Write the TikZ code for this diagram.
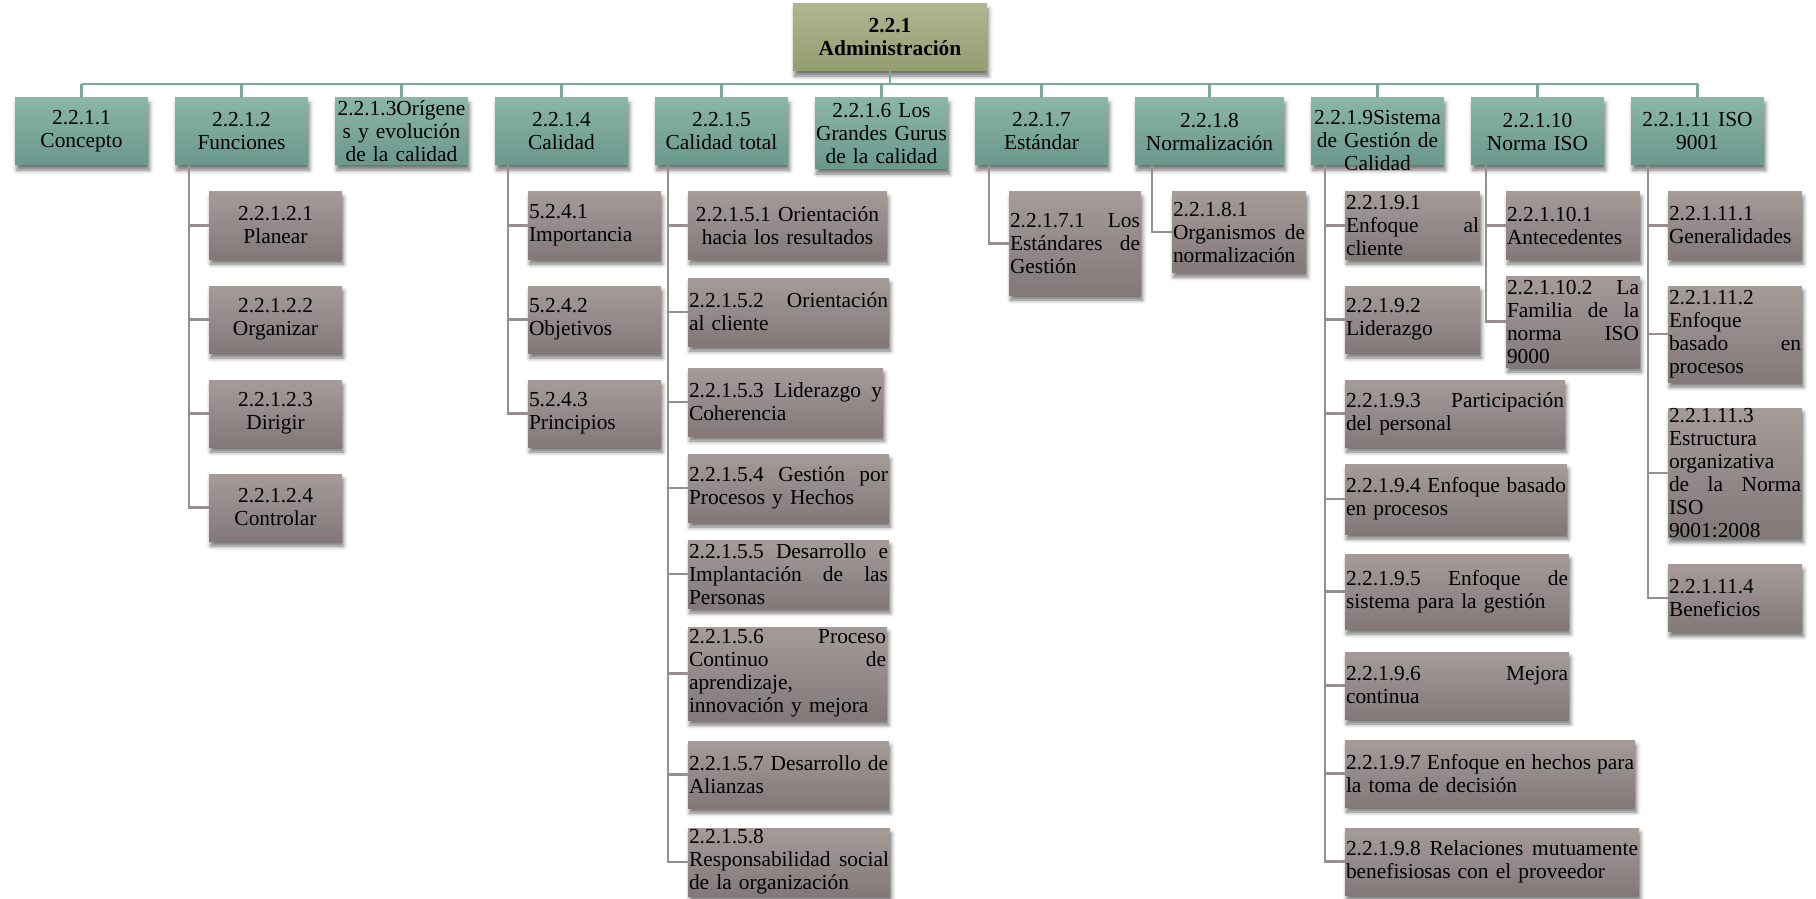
\documentclass[tikz,border=0pt]{standalone}
\usepackage{fontspec}
\setmainfont{Liberation Serif}
\usepackage{tikz}
\usetikzlibrary{positioning,shadows.blur}

\definecolor{rootTop}{RGB}{174,182,143}
\definecolor{rootBot}{RGB}{148,157,112}
\definecolor{headTop}{RGB}{139,181,169}
\definecolor{headBot}{RGB}{105,152,139}
\definecolor{subTop}{RGB}{165,156,154}
\definecolor{subBot}{RGB}{130,120,120}
\definecolor{headLine}{RGB}{125,168,156}
\definecolor{subLine}{RGB}{152,142,142}

\begin{document}
\begin{tikzpicture}[x=0.5pt,y=-0.5pt,
  card/.style={inner xsep=0.5pt, inner ysep=0pt, outer sep=0pt, minimum height=33.5pt,
    font=\fontsize{10.7}{11.5}\selectfont,
    blur shadow={shadow xshift=0.8pt, shadow yshift=-2.5pt, shadow blur radius=2pt, shadow opacity=55}},
  rootbox/.style={card, top color=rootTop, bottom color=rootBot, text width=96pt, align=center,
    font=\bfseries\fontsize{10.7}{11.5}\selectfont},
  headbox/.style={card, top color=headTop, bottom color=headBot, text width=65.5pt, align=center},
  subbox/.style={card, top color=subTop, bottom color=subBot, text width=65.5pt, align=left},
  headline/.style={draw=headLine, line width=1.2pt},
  subline/.style={draw=subLine, line width=1.2pt}]
\useasboundingbox (0,0) rectangle (1816,899);

% root
\node[rootbox, anchor=north west] (adm) at (793,4) {2.2.1\\Administración};

% first level
\node[headbox, anchor=north west] (con) at (15,98) {2.2.1.1\\Concepto};
\node[headbox, below right=0pt and 13.5pt of con.north east] (fun) {2.2.1.2\\Funciones};
\node[headbox, below right=0pt and 13.5pt of fun.north east] (ori) {2.2.1.3Orígene\\s y evolución\\de la calidad};
\node[headbox, below right=0pt and 13.5pt of ori.north east] (cal) {2.2.1.4\\Calidad};
\node[headbox, below right=0pt and 13.5pt of cal.north east] (tot) {2.2.1.5\\Calidad total};
\node[headbox, below right=0pt and 13.5pt of tot.north east, minimum height=35.5pt] (gur) {2.2.1.6 Los\\Grandes Gurus\\de la calidad};
\node[headbox, below right=0pt and 13.5pt of gur.north east] (est) {2.2.1.7\\Estándar};
\node[headbox, below right=0pt and 13.5pt of est.north east, text width=73.5pt] (nor) {2.2.1.8\\Normalización};
\node[headbox, below right=0pt and 13.5pt of nor.north east, text height=13.5pt, text depth=20pt] (sis) {2.2.1.9Sistema\\de Gestión de\\Calidad};
\node[headbox, below right=0pt and 13.5pt of sis.north east] (nis) {2.2.1.10\\Norma ISO};
\node[headbox, below right=0pt and 13.5pt of nis.north east] (iso) {2.2.1.11 ISO\\9001};

% funciones
\node[subbox, align=center, below right=13.5pt and 17pt of fun.south west] (f1) {2.2.1.2.1\\Planear};
\node[subbox, align=center, below right=13.5pt and 0pt of f1.south west] (f2) {2.2.1.2.2\\Organizar};
\node[subbox, align=center, below right=13.5pt and 0pt of f2.south west] (f3) {2.2.1.2.3\\Dirigir};
\node[subbox, align=center, below right=13.5pt and 0pt of f3.south west] (f4) {2.2.1.2.4\\Controlar};

% calidad
\node[subbox, below right=13.5pt and 16.5pt of cal.south west] (c1) {5.2.4.1\\Importancia};
\node[subbox, below right=13.5pt and 0pt of c1.south west] (c2) {5.2.4.2\\Objetivos};
\node[subbox, below right=13.5pt and 0pt of c2.south west] (c3) {5.2.4.3\\Principios};

% calidad total
\node[subbox, align=center, text width=98.5pt, below right=13.5pt and 16.5pt of tot.south west] (t1) {2.2.1.5.1 Orientación\\hacia los resultados};
\node[subbox, text width=99.5pt, minimum height=34pt, below right=9.5pt and 0pt of t1.south west] (t2) {2.2.1.5.2\hfill Orientación\\al cliente};
\node[subbox, text width=96.5pt, minimum height=34pt, below right=11pt and 0pt of t2.south west] (t3) {2.2.1.5.3\hfill Liderazgo\hfill y\\Coherencia};
\node[subbox, text width=99.5pt, minimum height=34pt, below right=9pt and 0pt of t3.south west] (t4) {2.2.1.5.4\hfill Gestión\hfill por\\Procesos y Hechos};
\node[subbox, text width=99.5pt, minimum height=34pt, below right=9pt and 0pt of t4.south west] (t5) {2.2.1.5.5\hfill Desarrollo\hfill e\\Implantación\hfill de\hfill las\\Personas};
\node[subbox, text width=98.5pt, minimum height=46.5pt, below right=9.5pt and 0pt of t5.south west] (t6) {2.2.1.5.6\hfill Proceso\\Continuo\hfill de\\aprendizaje,\\innovación y mejora};
\node[subbox, text width=99.5pt, below right=10.5pt and 0pt of t6.south west] (t7) {2.2.1.5.7\hfill Desarrollo\hfill de\\Alianzas};
\node[subbox, text width=100pt, minimum height=34pt, below right=10pt and 0pt of t7.south west] (t8) {2.2.1.5.8\\Responsabilidad\hfill social\\de la organización};

% estandar, normalizacion
\node[subbox, text width=65pt, minimum height=51.5pt, below right=13.5pt and 17pt of est.south west] (e1) {2.2.1.7.1\hfill Los\\Estándares\hfill de\\Gestión};
\node[subbox, text width=66pt, minimum height=40pt, below right=13.5pt and 18.5pt of nor.south west] (n1) {2.2.1.8.1\\Organismos\hfill de\\normalización};

% sistema de gestion
\node[subbox, text width=66.5pt, below right=13.5pt and 17pt of sis.south west] (s1) {2.2.1.9.1\\Enfoque\hfill al\\cliente};
\node[subbox, text width=66.5pt, below right=13.5pt and 0pt of s1.south west] (s2) {2.2.1.9.2\\Liderazgo};
\node[subbox, text width=109pt, below right=13.5pt and 0pt of s2.south west] (s3) {2.2.1.9.3\hfill Participación\\del personal};
\node[subbox, text width=110pt, minimum height=35pt, below right=8.5pt and 0pt of s3.south west] (s4) {2.2.1.9.4\hfill Enfoque\hfill basado\\en procesos};
\node[subbox, text width=111pt, minimum height=37.5pt, below right=10pt and 0pt of s4.south west] (s5) {2.2.1.9.5\hfill Enfoque\hfill de\\sistema para la gestión};
\node[subbox, text width=111pt, below right=11.5pt and 0pt of s5.south west] (s6) {2.2.1.9.6\hfill Mejora\\continua};
\node[subbox, text width=144pt, below right=10.5pt and 0pt of s6.south west] (s7) {2.2.1.9.7\hfill Enfoque\hfill en\hfill hechos\hfill para\\la toma de decisión};
\node[subbox, text width=146pt, below right=10.5pt and 0pt of s7.south west] (s8) {2.2.1.9.8\hfill Relaciones\hfill mutuamente\\benefisiosas con el proveedor};

% norma iso
\node[subbox, text width=66pt, below right=13.5pt and 17.5pt of nis.south west] (m1) {2.2.1.10.1\\Antecedentes};
\node[subbox, text width=66pt, minimum height=45.5pt, below right=8.5pt and 0pt of m1.south west] (m2) {2.2.1.10.2\hfill La\\Familia\hfill de\hfill la\\norma\hfill ISO\\9000};

% iso 9001
\node[subbox, text width=66pt, below right=13.5pt and 18.5pt of iso.south west] (i1) {2.2.1.11.1\\Generalidades};
\node[subbox, text width=66pt, minimum height=48pt, below right=13.5pt and 0pt of i1.south west] (i2) {2.2.1.11.2\\Enfoque\\basado\hfill en\\procesos};
\node[subbox, text width=66pt, minimum height=64.5pt, below right=13pt and 0pt of i2.south west] (i3) {2.2.1.11.3\\Estructura\\organizativa\\de\hfill la\hfill Norma\\ISO\\9001:2008};
\node[subbox, text width=66pt, below right=13.5pt and 0pt of i3.south west] (i4) {2.2.1.11.4\\Beneficios};

% connectors
\coordinate (bar) at (0,84);
\draw[headline] (adm.south) -- (adm.south |- bar);
\draw[headline] (con.north |- bar) -- (iso.north |- bar);
\foreach \p in {con,fun,ori,cal,tot,gur,est,nor,sis,nis,iso}
  \draw[headline] (\p.north |- bar) -- (\p.north);

\foreach \p/\c/\n in {fun/f/4,cal/c/3,tot/t/8,est/e/1,nor/n/1,sis/s/8,nis/m/2,iso/i/4}{
  \coordinate (x\p) at ([xshift=-10pt]\c1.west);
  \foreach \k in {1,...,\n}
    \draw[subline] (x\p |- \p.south) |- (\c\k.west);
}
\end{tikzpicture}
\end{document}
